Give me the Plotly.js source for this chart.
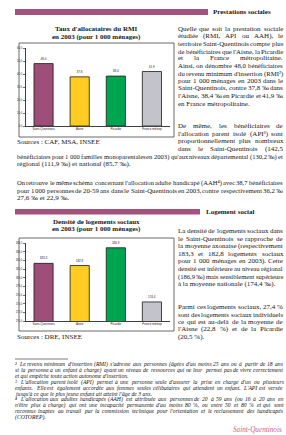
<!DOCTYPE html>
<html><head><meta charset="utf-8">
<script src="https://cdn.plot.ly/plotly-3.0.1.min.js"></script>
<style>html,body{margin:0;padding:0;background:#fff;overflow:hidden}#c{width:286px;height:435px}</style>
</head><body><div id="c"></div>
<script>
// ---- data ----
const categories = ['Saint-Quentinois', 'Aisne', 'Picardie', 'France métrop'];
const rmiValues = [48.0, 37.8, 38.4, 41.9];
const logementValues = [183.3, 182.8, 186.9, 174.4];
const rmiTicks = [0, 10, 20, 30, 40, 50, 60];
const logementTicks = [170, 172, 174, 176, 178, 180, 182, 184, 186, 188];
const barColors = ['#9D4F7A', '#FFCC22', '#00A64F', '#C3C3CB'];

const chart1Title = ["Taux d'allocataires du RMI", "en 2003 (pour 1 000 ménages)"];
const chart2Title = ["Densité de logements sociaux", "en 2003 (pour 1 000 ménages)"];
const source1 = "Sources : CAF, MSA, INSEE";
const source2 = "Sources : DRE, INSEE";

const col1Para1 = [
 "Quelle que soit la prestation sociale",
 "étudiée (RMI, API ou AAH), le",
 "territoire Saint-Quentinois compte plus",
 "de bénéficiaires que l'Aisne, la Picardie",
 "et la France métropolitaine.",
 "Ainsi, on dénombre 48,0 bénéficiaires",
 "du revenu minimum d'insertion (RMI²)",
 "pour 1 000 ménages en 2003 dans le",
 "Saint-Quentinois, contre 37,8 ‰ dans",
 "l'Aisne, 38,4 ‰ en Picardie et 41,9 ‰",
 "en France métropolitaine."
];
const col1Para2 = [
 "De même, les bénéficiaires de",
 "l'allocation parent isolé (API³) sont",
 "proportionnellement plus nombreux",
 "dans le Saint-Quentinois (142,5"
];
const fullLines1 = [
 "bénéficiaires pour 1 000 familles monoparentales en 2003) qu'aux niveaux départemental (130,2 ‰) et",
 "régional (111,9 ‰) et national (85,7 ‰)."
];
const fullLines2 = [
 "On retrouve le même schéma concernant l'allocation adulte handicapé (AAH⁴) avec 38,7 bénéficiaires",
 "pour 1 000 personnes de 20-59 ans dans le Saint-Quentinois en 2003, contre respectivement 36,2 ‰",
 "27,6 ‰ et 22,9 ‰."
];
const col2Para1 = [
 "La densité de logements sociaux dans",
 "le Saint-Quentinois se rapproche de",
 "la moyenne axonaise (respectivement",
 "183,3 et 182,8 logements sociaux",
 "pour 1 000 ménages en 2003). Cette",
 "densité est inférieure au niveau régional",
 "(186,9 ‰) mais sensiblement supérieure",
 "à la moyenne nationale (174,4 ‰)."
];
const col2Para2 = [
 "Parmi ces logements sociaux, 27,4 %",
 "sont des logements sociaux individuels",
 "ce qui est au-delà de la moyenne de",
 "l'Aisne (22,8 %) et de la Picardie",
 "(20,5 %)."
];
const footnotes = [
 ["² Le revenu minimum d'insertion (RMI) s'adresse aux personnes (âgées d'au moins 25 ans ou à partir de 18 ans",
  "si la personne a un enfant à charge) ayant un niveau de ressources qui ne leur permet pas de vivre correctement",
  "et qui empêche toute action autonome d'insertion."],
 ["³ L'allocation parent isolé (API) permet à une personne seule d'assurer la prise en charge d'un ou plusieurs",
  "enfants. Elle est également accordée aux femmes seules célibataires qui attendent un enfant. L'API est versée",
  "jusqu'à ce que le plus jeune enfant ait atteint l'âge de 3 ans."],
 ["⁴ L'allocation aux adultes handicapés (AAH) est attribuée aux personnes de 20 à 59 ans (ou 16 à 20 ans en",
  "n'être plus à charge) qui ont une incapacité permanente d'au moins 80 %, ou entre 50 et 80 % et qui sont",
  "reconnus inaptes au travail par la commission technique pour l'orientation et le reclassement des handicapés",
  "(COTOREP)."]
];
const sectionTitles = ["Prestations sociales", "Logement social"];
const pageFooter = "Saint-Quentinois";

// ---- layout helpers ----
const W = 286, H = 435;
const fx = x => x / W, fy = y => 1 - y / H;
const SERIF = 'Liberation Serif';
const ann = [];
const NS = 'http://www.w3.org/2000/svg';
const msvg = document.createElementNS(NS, 'svg');
msvg.setAttribute('style', 'position:absolute;left:-2000px;top:0;width:1000px;height:50px');
document.body.appendChild(msvg);
const mtext = document.createElementNS(NS, 'text');
mtext.setAttribute('x', '0'); mtext.setAttribute('y', '20');
msvg.appendChild(mtext);
function mkFont(o) { return {family: SERIF, size: o.size || 7.0, color: o.color || '#161616', weight: o.weight || 'normal', style: o.style || 'normal'}; }
function setM(t, o) {
  const f = mkFont(o);
  mtext.setAttribute('style', "font-family:'" + SERIF + "';font-size:" + f.size + 'px;font-style:' + f.style + ';font-weight:' + f.weight + ';white-space:pre');
  mtext.textContent = t;
}
function measure(t, o) { setM(t, o); return mtext.getComputedTextLength(); }
function vcenter(t, o) { setM(t, o); const b = mtext.getBBox(); return (b.y - 20) + b.height / 2; }
// y given as the visual middle of a normal text line; baseline kept identical for every word
function T(text, x, y, o) {
  o = o || {};
  const base = y - vcenter('xX', o);
  const ay = base + vcenter(text, o);
  ann.push({text: text, x: fx(x), y: fy(ay), xref: 'paper', yref: 'paper',
    xanchor: o.xa || 'left', yanchor: 'middle', showarrow: false, borderpad: 0, borderwidth: 0,
    font: mkFont(o)});
}
function J(text, x0, x1, y, o) {
  o = Object.assign({}, o || {});
  const words = text.split(' ');
  let size = mkFont(o).size, ws, sum, gap, space;
  for (let k = 0; k < 12; k++) {
    o.size = size;
    ws = words.map(w => measure(w, o));
    sum = ws.reduce((a, b) => a + b, 0);
    space = measure('a a', o) - measure('aa', o);
    gap = words.length > 1 ? (x1 - x0 - sum) / (words.length - 1) : 0;
    if (gap >= space * 0.75) break;
    size = size * 0.97;
  }
  let x = x0;
  words.forEach((w, i) => { T(w, x, y, o); x += ws[i] + gap; });
}
function L(text, x0, x1, y, o) {
  o = Object.assign({}, o || {});
  let size = mkFont(o).size;
  for (let k = 0; k < 12 && measure(text, Object.assign(o, {size: size})) > x1 - x0; k++) size *= 0.97;
  o.size = size;
  T(text, x0, y, o);
}
function P(arr, x0, x1, y0, dy, o, lastJust) {
  arr.forEach((t, i) => {
    const y = y0 + i * dy;
    if (i < arr.length - 1 || lastJust) J(t, x0, x1, y, o); else L(t, x0, x1, y, o);
  });
}

const COLX = 178, COLR = 283, LEFT = 17, FULLR = 283, LS = 7.5;
T(sectionTitles[0], 213, 12, {weight: 'bold', size: 7});
T(sectionTitles[1], 206, 211.5, {weight: 'bold', size: 7});
[chart1Title, chart2Title].forEach((tt, k) => {
  const y0 = k === 0 ? 29 : 221.5;
  tt.forEach((t, i) => T(t, 96, y0 + i * 7.6, {xa: 'center', weight: 'bold', size: 7.0}));
});
T(source1, LEFT, 142, {});
T(source2, LEFT, 337, {});
P(col1Para1, COLX, COLR, 28.5, LS, {});
P(col1Para2, COLX, COLR, 126, LS, {}, true);
P(fullLines1, LEFT, FULLR, 156, LS, {});
P(fullLines2, LEFT, FULLR, 183, LS, {});
P(col2Para1, COLX, COLR, 231, LS, {});
P(col2Para2, COLX, COLR, 306.5, LS, {});
let fy0 = 364;
footnotes.forEach(note => { P(note, 15, FULLR, fy0, 5.9, {size: 5.7, style: 'italic'}); fy0 += note.length * 5.9; });
T(pageFooter, 233, 430, {size: 7.2, style: 'italic', color: '#CF5E8C'});
document.body.removeChild(msvg);

const shapes = [
  {type: 'rect', xref: 'paper', yref: 'paper', x0: fx(15), x1: fx(208), y0: fy(9), y1: fy(15), fillcolor: '#A3527D', line: {width: 0}},
  {type: 'rect', xref: 'paper', yref: 'paper', x0: fx(15), x1: fx(200), y0: fy(209), y1: fy(214.5), fillcolor: '#A3527D', line: {width: 0}},
  {type: 'rect', xref: 'paper', yref: 'paper', x0: fx(19), x1: fx(174), y0: fy(43), y1: fy(137), line: {color: '#444', width: 0.8}},
  {type: 'rect', xref: 'paper', yref: 'paper', x0: fx(19), x1: fx(174), y0: fy(238), y1: fy(331), line: {color: '#444', width: 0.8}},
  {type: 'line', xref: 'paper', yref: 'paper', x0: fx(15), x1: fx(68), y0: fy(359), y1: fy(359), line: {color: '#222', width: 0.6}}
];

const barCommon = {type: 'bar', x: categories, marker: {color: barColors, line: {color: '#1a1a1a', width: 0.8}},
  textposition: 'outside', texttemplate: '%{y:.1f}', cliponaxis: false,
  textfont: {family: 'Liberation Sans', size: 3, color: '#222'}, hoverinfo: 'none'};
const traces = [
  Object.assign({}, barCommon, {y: rmiValues, xaxis: 'x', yaxis: 'y'}),
  Object.assign({}, barCommon, {y: logementValues, xaxis: 'x2', yaxis: 'y2'})
];
const fmt = v => v.toFixed(1).replace('.', ',');
const xAx = d => ({domain: d, showline: true, linecolor: '#111', linewidth: 0.8, ticks: '', showgrid: false,
  tickfont: {family: 'Liberation Sans', size: 3, color: '#222'}, fixedrange: true});
const yAx = (dom, range, tv) => ({domain: dom, range: range, tickvals: tv, ticktext: tv.map(fmt), showline: true,
  linecolor: '#111', linewidth: 0.8, ticks: 'outside', ticklen: 2, tickwidth: 0.6, tickcolor: '#111', showgrid: false, zeroline: false,
  tickfont: {family: 'Liberation Sans', size: 2.6, color: '#222'}, fixedrange: true});

const layout = {
  width: W, height: H, margin: {l: 0, r: 0, t: 0, b: 0}, paper_bgcolor: '#fff', plot_bgcolor: '#fff',
  showlegend: false, bargap: 0.47,
  xaxis: Object.assign(xAx([fx(25.5), fx(170)]), {anchor: 'y'}),
  yaxis: Object.assign(yAx([fy(126), fy(48)], [0, 60], rmiTicks), {anchor: 'x'}),
  xaxis2: Object.assign(xAx([fx(25.5), fx(170)]), {anchor: 'y2'}),
  yaxis2: Object.assign(yAx([fy(321), fy(243)], [170, 188], logementTicks), {anchor: 'x2'}),
  annotations: ann, shapes: shapes
};
Plotly.newPlot('c', traces, layout, {staticPlot: true, displayModeBar: false});
</script></body></html>
